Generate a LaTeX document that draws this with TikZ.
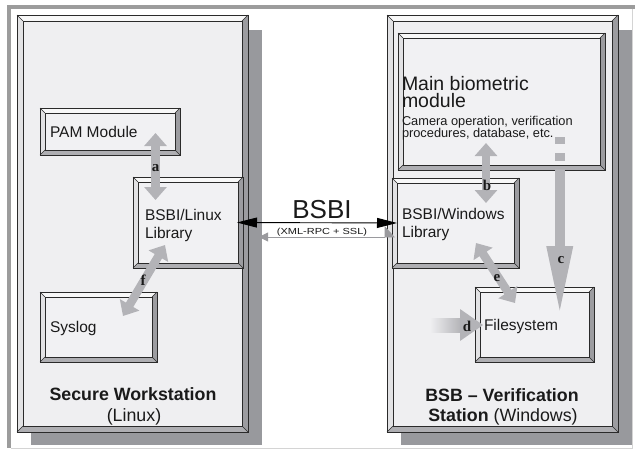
\documentclass[tikz,border=0pt]{standalone}
\usepackage{fontspec}
\usepackage{graphicx}
\setmainfont{Liberation Sans}
\newfontfamily\labfont{Liberation Serif}
\usetikzlibrary{arrows.meta,calc}
\definecolor{edgec}{HTML}{2A2A2A}
\definecolor{bevtop}{HTML}{F8F8F8}
\definecolor{bevleft}{HTML}{E2E2E4}
\definecolor{bevright}{HTML}{9C9CA0}
\definecolor{bevbot}{HTML}{AEAEB2}
\definecolor{panelbg}{HTML}{EFEFF1}
\definecolor{boxbg}{HTML}{F1F1F3}
\definecolor{shadowc}{HTML}{98999D}
\definecolor{arrowgray}{HTML}{B3B3B7}
\definecolor{framegray}{HTML}{9C9C9C}
\definecolor{framelight}{HTML}{D4D4D4}
\definecolor{textc}{HTML}{1A1A1A}
\definecolor{xmlgray}{HTML}{9A9A9E}

\newcommand\bevelbox[2]{%
  \path (#1.north west) coordinate (#1-nw) (#1.north east) coordinate (#1-ne)
        (#1.south east) coordinate (#1-se) (#1.south west) coordinate (#1-sw);
  \path ($(#1-nw)+(#2,#2)$) coordinate (#1-inw) ($(#1-ne)+(-#2,#2)$) coordinate (#1-ine)
        ($(#1-se)+(-#2,-#2)$) coordinate (#1-ise) ($(#1-sw)+(#2,-#2)$) coordinate (#1-isw);
  \fill[bevtop] (#1-nw) -- (#1-ne) -- (#1-ine) -- (#1-inw) -- cycle;
  \fill[bevleft] (#1-nw) -- (#1-inw) -- (#1-isw) -- (#1-sw) -- cycle;
  \fill[bevright] (#1-ne) -- (#1-se) -- (#1-ise) -- (#1-ine) -- cycle;
  \fill[bevbot] (#1-sw) -- (#1-isw) -- (#1-ise) -- (#1-se) -- cycle;
  \draw[edgeline, line width=0.5pt] (#1-nw) -- (#1-inw) (#1-ne) -- (#1-ine) (#1-se) -- (#1-ise) (#1-sw) -- (#1-isw);
  \draw[edgeline] (#1-inw) rectangle (#1-ise);
  \draw[edgeline] (#1-nw) rectangle (#1-se);
}

\begin{document}
\begin{tikzpicture}[x=1pt,y=-1pt,
  edgeline/.style={draw=edgec, line width=0.9pt},
  panel/.style={fill=panelbg, inner sep=0pt, outer sep=0pt},
  boxnode/.style={fill=boxbg, inner sep=0pt, outer sep=0pt},
  txt/.style={inner sep=0pt, outer sep=0pt, anchor=base west, text=textc},
  ctxt/.style={inner sep=0pt, outer sep=0pt, anchor=base, text=textc},
  lab/.style={inner sep=0pt, outer sep=0pt, anchor=center, text=textc,
     font=\labfont\bfseries\fontsize{15}{15}\selectfont},
  fatarrow/.style={draw=arrowgray, line width=8.5pt,
     {Triangle[length=13pt,width=22pt]}-{Triangle[length=13pt,width=22pt]}},
]
\useasboundingbox (0,0) rectangle (635,450);
\fill[white] (0,0) rectangle (635,450);

% outer frame
\fill[framegray] (7,5) rectangle (635,9);
\fill[framegray] (7,5) rectangle (11,448);
\draw[framelight, line width=0.8pt] (11,448.5) -- (632,448.5);
\draw[framelight, line width=0.8pt] (632,9) -- (632,448.5);

% panels
\node[panel, minimum width=231pt, minimum height=417pt] (lp) at (132.5,223.5) {};
\node[panel, minimum width=231pt, minimum height=417pt] (rp) at (502.5,223.5) {};
\fill[shadowc] ($(lp.north west)+(14,15)$) rectangle ($(lp.south east)+(14,13)$);
\fill[shadowc] ($(rp.north west)+(14,15)$) rectangle ($(rp.south east)+(14,13)$);
\fill[panelbg] (lp.north west) rectangle (lp.south east);
\fill[panelbg] (rp.north west) rectangle (rp.south east);
\bevelbox{lp}{6}
\bevelbox{rp}{6}

% inner boxes
\node[boxnode, minimum width=140pt, minimum height=47pt] (pam) at (110,131.5) {};
\node[boxnode, minimum width=110pt, minimum height=91pt] (lin) at (188,222.5) {};
\node[boxnode, minimum width=117pt, minimum height=70pt] (sys) at (98.5,327) {};
\node[boxnode, minimum width=207pt, minimum height=137pt] (mbm) at (501.5,101.5) {};
\node[boxnode, minimum width=127pt, minimum height=90pt] (win) at (455.5,223) {};
\node[boxnode, minimum width=119pt, minimum height=75pt] (fs) at (534.5,324.5) {};
\bevelbox{pam}{5}
\bevelbox{lin}{5}
\bevelbox{sys}{5}
\bevelbox{mbm}{5}
\bevelbox{win}{5}
\bevelbox{fs}{5}

% texts
\node[txt, font=\fontsize{15.5}{18}\selectfont] (tpam) at (50,137) {PAM Module};
\node[txt, font=\fontsize{15.5}{18}\selectfont] (tlin1) at (145,220) {BSBI/Linux};
\node[txt, font=\fontsize{15.5}{18}\selectfont] (tlin2) at (145,238.5) {Library};
\node[txt, font=\fontsize{15.5}{18}\selectfont] (tsys) at (50,332) {Syslog};
\node[txt, font=\fontsize{19.5}{22}\selectfont] (tm1) at (402,90) {Main biometric};
\node[txt, font=\fontsize{19.5}{22}\selectfont] (tm2) at (402,107.5) {module};
\node[txt, font=\fontsize{12.8}{14}\selectfont] (tm3) at (402,125.5) {Camera operation, verification};
\node[txt, font=\fontsize{12.8}{14}\selectfont] (tm4) at (402,137.5) {procedures, database, etc.};
\node[txt, font=\fontsize{15.5}{18}\selectfont] (twin1) at (402,219.5) {BSBI/Windows};
\node[txt, font=\fontsize{15.5}{18}\selectfont] (twin2) at (402,237.5) {Library};
\node[txt, font=\fontsize{15.5}{18}\selectfont] (tfs) at (484,330) {Filesystem};
\node[ctxt, font=\bfseries\fontsize{17.8}{20}\selectfont] (tsw1) at (133,400.5) {Secure Workstation};
\node[ctxt, font=\fontsize{17.8}{20}\selectfont] (tsw2) at (134,421) {(Linux)};
\node[ctxt, font=\fontsize{17.8}{20}\selectfont] (tbv1) at (502,401.5) {\bfseries BSB -- Verification};
\node[ctxt, font=\fontsize{17.8}{20}\selectfont] (tbv2) at (503,421.5) {\bfseries Station\mdseries{} (Windows)};

% BSBI connection
\draw[draw=black, line width=0.9pt,
  {Triangle[length=20pt,width=10pt]}-{Triangle[length=20pt,width=10pt]}]
  ([xshift=-6pt]lin.east) -- ([xshift=5pt]win.west);
\draw[draw=xmlgray, line width=0.9pt,
  {Triangle[length=9pt,width=9pt]}-{Triangle[harpoon,length=10pt,width=22pt]}]
  ([xshift=16pt,yshift=-14.5pt]lin.east) -- ([xshift=3pt,yshift=-14pt]win.west);
\node[ctxt, font=\fontsize{26}{28}\selectfont] (tbsbi) at (322,218) {BSBI};
\node[ctxt, font=\fontsize{8.8}{10}\selectfont] (txml) at (322,234) {\scalebox{1.25}[1]{(XML-RPC + SSL)}};

% gray arrows
\coordinate (a1) at (155.5,133); \coordinate (a2) at (155.5,200);
\coordinate (b1) at (486,143);   \coordinate (b2) at (486,203);
\coordinate (e1) at (476,243);   \coordinate (e2) at (515,303);
\coordinate (f1) at (165,245);   \coordinate (f2) at (123,316);
\draw[fatarrow] (a1) -- (a2);
\draw[fatarrow] (b1) -- (b2);
\draw[fatarrow] (e1) -- (e2);
\draw[fatarrow] (f1) -- (f2);

% arrow c
\fill[arrowgray] (555,137) rectangle (564.5,144);
\fill[arrowgray] (555,153) rectangle (564.5,161);
\coordinate (c1) at (559.75,169); \coordinate (c2) at (559.75,315);
\draw[draw=arrowgray, line width=9.5pt, -{Triangle[length=69pt,width=24pt]}] (c1) -- (c2);

% arrow d
\shade[left color=panelbg, right color=arrowgray] (430,318) rectangle (461,332);
\coordinate (d1) at (460,325); \coordinate (d2) at (483,325);
\fill[arrowgray] (460,309) -- (d2) -- (460,341) -- cycle;

% labels
\node[lab] (la) at (155.5,168) {a};
\node[lab] (lb) at (487,185) {b};
\node[lab] (lc) at (561,260) {c};
\node[lab] (ld) at (467,326) {d};
\node[lab] (le) at (497,278) {e};
\node[lab] (lf) at (143,280) {f};
\end{tikzpicture}
\end{document}
